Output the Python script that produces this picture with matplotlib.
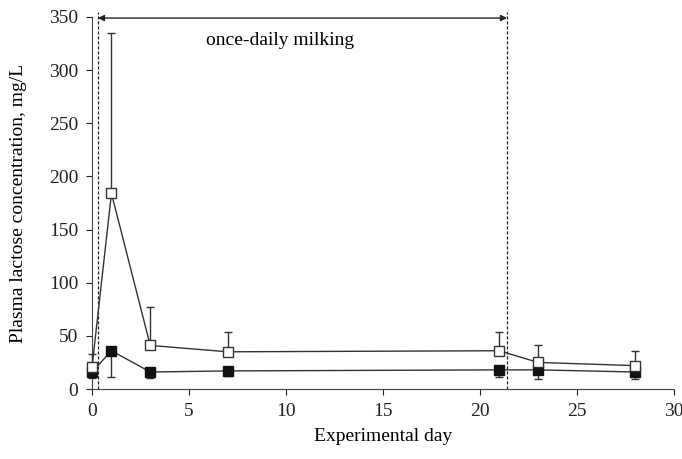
import matplotlib.pyplot as plt
import numpy as np

plt.rcParams['font.family'] = ['Liberation Serif', 'DejaVu Serif']

days = [0, 1, 3, 7, 21, 23, 28]

# once-daily milked quarters (open squares)
open_mean = [21, 184, 41, 35, 36, 25, 22]
open_err_up = [12, 151, 36, 19, 18, 16, 14]

# twice-daily milked quarters (filled squares)
filled_mean = [16, 36, 16, 17, 18, 18, 16]
filled_err_lo = [6, 25, 6, 5, 7, 9, 7]

period_start = 0.3
period_end = 21.4

fig, ax = plt.subplots(figsize=(6.82, 4.59), dpi=100)
fig.subplots_adjust(left=0.135, right=0.988, bottom=0.1525, top=0.963)

line_col = '#333333'

ax.errorbar(days, filled_mean, yerr=[filled_err_lo, np.zeros(len(days))],
            fmt='s-', color=line_col, mfc='#111111', mec='#111111', ms=6.5,
            lw=1, elinewidth=1, capsize=3, zorder=3, clip_on=False)
ax.errorbar(days, open_mean, yerr=[np.zeros(len(days)), open_err_up],
            fmt='s-', color=line_col, mfc='white', mec=line_col, ms=6.5,
            lw=1, elinewidth=1, capsize=3, zorder=4, clip_on=False)

for xv in (period_start, period_end):
    ax.axvline(xv, ymin=0, ymax=1.013, color='#222222', ls=(0, (2.5, 1.5)),
               lw=0.9, clip_on=False)

ax.annotate('', xy=(period_start, 349), xytext=(period_end, 349),
            arrowprops=dict(arrowstyle='<|-|>', color='#222222', lw=1,
                            mutation_scale=9, shrinkA=0, shrinkB=0),
            annotation_clip=False)
ax.text(9.7, 328, 'once-daily milking', ha='center', va='center', fontsize=14)

ax.set_xlim(0, 30)
ax.set_ylim(0, 350)
ax.set_xticks(range(0, 31, 5))
ax.set_yticks(range(0, 351, 50))
ax.tick_params(direction='out', length=4, labelsize=14, colors='#222222', pad=6)
ax.spines['top'].set_visible(False)
ax.spines['right'].set_visible(False)
for s in ('left', 'bottom'):
    ax.spines[s].set_color('#444444')
ax.set_xlabel('Experimental day', fontsize=14, labelpad=6)
ax.set_ylabel('Plasma lactose concentration, mg/L', fontsize=14, labelpad=16)

fig.savefig('out.png', dpi=100)
